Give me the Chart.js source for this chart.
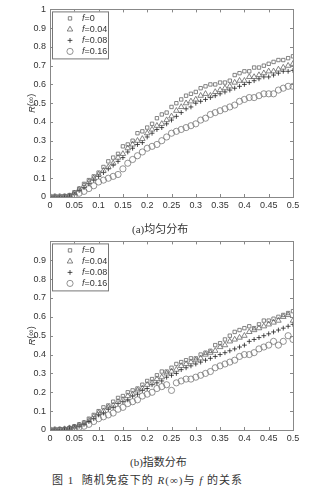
<!DOCTYPE html>
<html>
<head>
<meta charset="utf-8">
<script src="https://cdn.jsdelivr.net/npm/chart.js@4.4.1/dist/chart.umd.min.js"></script>
<style>
body { margin: 0; background: #fff; width: 336px; height: 489px; position: relative; overflow: hidden; }
canvas { position: absolute; left: 0; }
#g1 { top: 0; }
#g2 { top: 232px; }
.cap { position: absolute; color: #333; white-space: nowrap; font-family: "Liberation Serif", "Noto Sans CJK SC", serif; }
</style>
</head>
<body>
<canvas id="g1" width="336" height="216"></canvas>
<canvas id="g2" width="336" height="216"></canvas>
<div class="cap" style="left:132px;top:220px;font-size:11px">(a)均匀分布</div>
<div class="cap" style="left:130px;top:453px;font-size:11px">(b)指数分布</div>
<div class="cap" style="left:52px;top:471px;font-size:11px;letter-spacing:1px">图 1&nbsp; 随机免疫下的 <i>R</i>(∞)与 <i>f</i> 的关系</div>
<script>
// infection rate (x)
const xs = [0, 0.01, 0.02, 0.03, 0.04, 0.05, 0.06, 0.07, 0.08, 0.09,
  0.10, 0.11, 0.12, 0.13, 0.14, 0.15, 0.16, 0.17, 0.18, 0.19,
  0.20, 0.21, 0.22, 0.23, 0.24, 0.25, 0.26, 0.27, 0.28, 0.29,
  0.30, 0.31, 0.32, 0.33, 0.34, 0.35, 0.36, 0.37, 0.38, 0.39,
  0.40, 0.41, 0.42, 0.43, 0.44, 0.45, 0.46, 0.47, 0.48, 0.49, 0.50];

const fLabels = ['0', '0.04', '0.08', '0.16'];
const xTicks = [0, 0.05, 0.1, 0.15, 0.2, 0.25, 0.3, 0.35, 0.4, 0.45, 0.5];

// (a) uniform distribution
const a_f0 = [0, 0, 0, 0.005, 0.01, 0.025, 0.045, 0.07, 0.09, 0.11,
  0.13, 0.16, 0.19, 0.21, 0.23, 0.27, 0.28, 0.30, 0.34, 0.35,
  0.37, 0.39, 0.42, 0.44, 0.45, 0.48, 0.50, 0.52, 0.54, 0.55,
  0.56, 0.58, 0.59, 0.60, 0.60, 0.61, 0.61, 0.62, 0.65, 0.66,
  0.67, 0.67, 0.69, 0.69, 0.70, 0.71, 0.72, 0.73, 0.73, 0.74, 0.75];
const a_f04 = [0, 0, 0, 0, 0.005, 0.02, 0.04, 0.06, 0.08, 0.10,
  0.12, 0.14, 0.16, 0.18, 0.21, 0.23, 0.26, 0.28, 0.30, 0.31,
  0.34, 0.36, 0.38, 0.39, 0.41, 0.43, 0.46, 0.48, 0.50, 0.51,
  0.52, 0.54, 0.55, 0.54, 0.56, 0.57, 0.58, 0.59, 0.61, 0.62,
  0.62, 0.64, 0.64, 0.65, 0.66, 0.67, 0.67, 0.68, 0.69, 0.70, 0.71];
const a_f08 = [0, 0, 0, 0, 0.005, 0.015, 0.035, 0.05, 0.07, 0.09,
  0.11, 0.13, 0.15, 0.17, 0.19, 0.21, 0.24, 0.26, 0.28, 0.29,
  0.32, 0.34, 0.36, 0.37, 0.39, 0.41, 0.43, 0.45, 0.47, 0.48,
  0.50, 0.51, 0.52, 0.53, 0.54, 0.55, 0.56, 0.57, 0.58, 0.59,
  0.60, 0.61, 0.62, 0.63, 0.64, 0.64, 0.65, 0.66, 0.67, 0.67, 0.675];
const a_f16 = [0, 0, 0, 0, 0, 0.01, 0.02, 0.03, 0.045, 0.06,
  0.08, 0.09, 0.10, 0.11, 0.12, 0.15, 0.18, 0.20, 0.22, 0.24,
  0.26, 0.27, 0.28, 0.30, 0.32, 0.34, 0.35, 0.36, 0.37, 0.38,
  0.39, 0.41, 0.42, 0.44, 0.45, 0.46, 0.47, 0.48, 0.49, 0.51,
  0.52, 0.53, 0.53, 0.54, 0.55, 0.55, 0.55, 0.57, 0.58, 0.59, 0.59];

// (b) exponential distribution
const b_f0 = [0, 0, 0.005, 0.005, 0.01, 0.02, 0.03, 0.04, 0.06, 0.08,
  0.10, 0.12, 0.13, 0.15, 0.17, 0.18, 0.20, 0.21, 0.22, 0.24,
  0.26, 0.27, 0.29, 0.31, 0.31, 0.33, 0.35, 0.36, 0.37, 0.38,
  0.38, 0.40, 0.41, 0.42, 0.45, 0.46, 0.48, 0.50, 0.52, 0.53,
  0.54, 0.55, 0.54, 0.56, 0.58, 0.58, 0.59, 0.60, 0.61, 0.62, 0.63];
const b_f04 = [0, 0, 0, 0.005, 0.01, 0.015, 0.025, 0.035, 0.05, 0.07,
  0.09, 0.10, 0.12, 0.13, 0.15, 0.16, 0.18, 0.19, 0.21, 0.22,
  0.24, 0.25, 0.27, 0.28, 0.30, 0.31, 0.32, 0.34, 0.35, 0.36,
  0.37, 0.38, 0.40, 0.41, 0.42, 0.44, 0.45, 0.47, 0.48, 0.49,
  0.50, 0.52, 0.53, 0.54, 0.55, 0.56, 0.57, 0.58, 0.60, 0.61, 0.58];
const b_f08 = [0, 0, 0, 0.005, 0.01, 0.015, 0.02, 0.03, 0.045, 0.06,
  0.08, 0.09, 0.11, 0.12, 0.14, 0.15, 0.16, 0.18, 0.19, 0.21,
  0.22, 0.24, 0.25, 0.26, 0.28, 0.29, 0.30, 0.32, 0.33, 0.34,
  0.35, 0.36, 0.37, 0.38, 0.39, 0.40, 0.41, 0.42, 0.43, 0.44,
  0.45, 0.47, 0.48, 0.49, 0.50, 0.51, 0.52, 0.53, 0.54, 0.55, 0.56];
const b_f16 = [0, 0, 0, 0, 0.005, 0.01, 0.015, 0.02, 0.03, 0.045,
  0.06, 0.07, 0.08, 0.09, 0.11, 0.12, 0.14, 0.15, 0.16, 0.18,
  0.19, 0.20, 0.22, 0.23, 0.24, 0.21, 0.25, 0.26, 0.27, 0.27,
  0.28, 0.29, 0.30, 0.31, 0.33, 0.34, 0.35, 0.36, 0.37, 0.39,
  0.40, 0.40, 0.41, 0.43, 0.44, 0.45, 0.47, 0.45, 0.47, 0.50, 0.48];

const styles = [
  { pointStyle: 'rect', radius: 2.4, color: '#666' },
  { pointStyle: 'triangle', radius: 3.2, color: '#666' },
  { pointStyle: 'cross', radius: 2.4, color: '#222' },
  { pointStyle: 'circle', radius: 3.1, color: '#777' }
];

function pts(ys) {
  return xs.map((x, i) => ({ x: x, y: ys[i] }));
}

// box, inward ticks, legend and y title drawn over the chart
const matlabBox = {
  id: 'matlabBox',
  afterDraw(chart) {
    const ctx = chart.ctx;
    const a = chart.chartArea;
    const sx = chart.scales.x, sy = chart.scales.y;
    ctx.save();
    ctx.strokeStyle = '#888';
    ctx.lineWidth = 1;
    ctx.strokeRect(Math.round(a.left) + 0.5, Math.round(a.top) + 0.5,
      Math.round(a.right - a.left), Math.round(a.bottom - a.top));
    ctx.beginPath();
    sx.ticks.forEach((t, i) => {
      const p = Math.round(sx.getPixelForTick(i)) + 0.5;
      ctx.moveTo(p, a.bottom); ctx.lineTo(p, a.bottom - 3);
      ctx.moveTo(p, a.top); ctx.lineTo(p, a.top + 3);
    });
    sy.ticks.forEach((t, i) => {
      const p = Math.round(sy.getPixelForTick(i)) + 0.5;
      ctx.moveTo(a.left, p); ctx.lineTo(a.left + 3, p);
      ctx.moveTo(a.right, p); ctx.lineTo(a.right - 3, p);
    });
    ctx.stroke();

    // legend
    const lx = a.left + 2, ly = a.top + 2;
    ctx.fillStyle = '#fff';
    ctx.fillRect(lx, ly, 56, 47);
    ctx.strokeStyle = '#777';
    ctx.strokeRect(lx + 0.5, ly + 0.5, 56, 47);
    fLabels.forEach((lab, i) => {
      const st = styles[i];
      const yy = ly + 7 + i * 11;
      ctx.strokeStyle = st.color;
      ctx.fillStyle = 'rgba(0,0,0,0)';
      ctx.lineWidth = 0.8;
      Chart.helpers.drawPoint(ctx, { pointStyle: st.pointStyle, radius: st.radius, rotation: 0, borderWidth: 0.8 }, lx + 18, yy);
      ctx.fillStyle = '#333';
      ctx.textBaseline = 'middle';
      ctx.textAlign = 'left';
      ctx.font = 'italic 9px "Liberation Sans", Arial, sans-serif';
      ctx.fillText('f', lx + 30, yy);
      const w = ctx.measureText('f').width;
      ctx.font = '9px "Liberation Sans", Arial, sans-serif';
      ctx.fillText('=' + lab, lx + 30 + w, yy);
    });

    // y axis title
    ctx.translate(a.left - 18, (a.top + a.bottom) / 2);
    ctx.rotate(-Math.PI / 2);
    ctx.fillStyle = '#333';
    ctx.textAlign = 'left';
    ctx.textBaseline = 'middle';
    ctx.font = 'italic 9px "Liberation Sans", Arial, sans-serif';
    const rw = ctx.measureText('R').width;
    ctx.font = '9px "Liberation Sans", Arial, sans-serif';
    const tw = rw + ctx.measureText('(∞)').width;
    ctx.font = 'italic 9px "Liberation Sans", Arial, sans-serif';
    ctx.fillText('R', -tw / 2, 0);
    ctx.font = '9px "Liberation Sans", Arial, sans-serif';
    ctx.fillText('(∞)', -tw / 2 + rw, 0);
    ctx.restore();
  }
};

function makeChart(id, series, topPad, xHeight, hideOne) {
  const tickFont = { family: '"Liberation Sans", Arial, sans-serif', size: 9 };
  new Chart(document.getElementById(id), {
    type: 'scatter',
    data: {
      datasets: series.map((ys, i) => ({
        label: 'f=' + fLabels[i],
        data: pts(ys),
        pointStyle: styles[i].pointStyle,
        pointRadius: styles[i].radius,
        pointBorderWidth: 0.8,
        borderColor: styles[i].color,
        backgroundColor: 'rgba(0,0,0,0)'
      }))
    },
    options: {
      responsive: false,
      animation: false,
      layout: { padding: { top: topPad, right: 43, left: 0, bottom: 0 } },
      plugins: { legend: { display: false }, tooltip: { enabled: false } },
      scales: {
        x: {
          type: 'linear', min: 0, max: 0.5,
          afterBuildTicks: s => { s.ticks = xTicks.map(v => ({ value: v })); },
          afterFit: s => { s.height = xHeight; },
          grid: { display: false, drawTicks: false },
          border: { display: false },
          ticks: { font: tickFont, color: '#333', padding: 3, maxRotation: 0, autoSkip: false,
            callback: v => String(+v.toFixed(2)) }
        },
        y: {
          type: 'linear', min: 0, max: 1,
          afterFit: s => { s.width = 50; },
          grid: { display: false, drawTicks: false },
          border: { display: false },
          ticks: { font: tickFont, color: '#333', padding: 4, stepSize: 0.1,
            callback: v => (hideOne && v === 1) ? '' : String(+v.toFixed(1)) }
        }
      }
    },
    plugins: [matlabBox]
  });
}

makeChart('g1', [a_f0, a_f04, a_f08, a_f16], 6, 19, false);
makeChart('g2', [b_f0, b_f04, b_f08, b_f16], 6, 18, true);
</script>
</body>
</html>
